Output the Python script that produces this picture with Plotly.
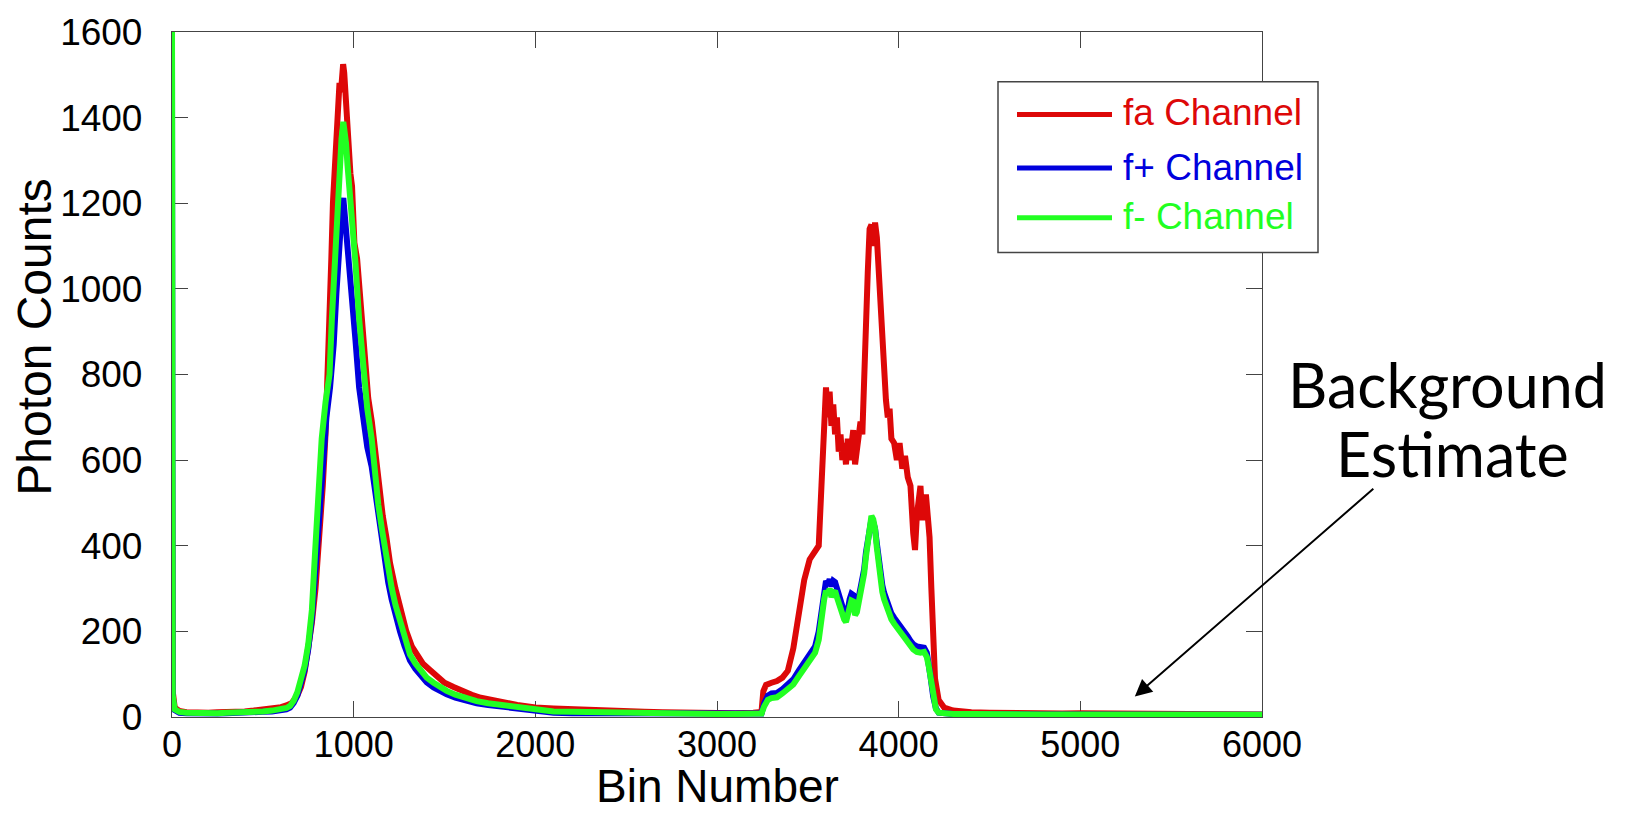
import plotly.graph_objects as go

# ---------------- data ----------------
bins_fa = [0, 4, 15, 40, 80, 120, 160, 200, 250, 300, 350, 400, 450, 500, 550, 600, 630, 660, 690, 710,
           730, 750, 770, 790, 810, 830, 845, 858, 868, 877, 886, 893, 898, 904, 913, 922, 930, 936, 942, 948,
           955, 964, 973, 982, 991, 1004, 1019, 1032, 1046, 1065, 1080, 1100, 1120, 1140, 1160, 1180, 1200, 1230, 1260, 1290,
           1320, 1350, 1380, 1420, 1460, 1500, 1550, 1600, 1650, 1700, 1750, 1800, 1850, 1900, 1950, 2000, 2100, 2200, 2300, 2400,
           2500, 2600, 2700, 2800, 2900, 3000, 3100, 3200, 3245, 3255, 3270, 3300, 3330, 3360, 3390, 3420, 3450, 3480, 3510, 3540,
           3560, 3575, 3590, 3600, 3610, 3620, 3630, 3640, 3650, 3660, 3670, 3680, 3690, 3700, 3710, 3720, 3730, 3740, 3750, 3760,
           3770, 3780, 3790, 3800, 3810, 3820, 3830, 3840, 3850, 3860, 3870, 3880, 3890, 3900, 3910, 3920, 3930, 3940, 3950, 3960,
           3975, 3990, 4005, 4020, 4035, 4050, 4065, 4080, 4090, 4100, 4110, 4120, 4130, 4140, 4150, 4160, 4170, 4180, 4190, 4200,
           4220, 4250, 4300, 4350, 4400, 4500, 4600, 4700, 4800, 4900, 5000, 5200, 5400, 5600, 5800, 6000]
counts_fa = [630, 60, 22, 14, 11, 10, 10, 10, 11, 11, 12, 13, 15, 17, 20, 23, 27, 33, 50, 70,
             105, 155, 220, 300, 400, 540, 660, 798, 930, 1070, 1202, 1260, 1287, 1349, 1396, 1481, 1460, 1500, 1525, 1505,
             1458, 1380, 1287, 1270, 1240, 1108, 1070, 1000, 930, 798, 745, 690, 610, 545, 470, 420, 360, 300, 245, 200,
             165, 145, 125, 110, 95, 80, 70, 60, 52, 45, 40, 36, 32, 28, 25, 22, 20, 18, 15, 14,
             13, 12, 11, 10, 10, 9, 9, 10, 12, 60, 75, 80, 84, 92, 108, 160, 250, 320, 368, 385,
             400, 540, 660, 770, 700, 760, 680, 730, 660, 700, 620, 660, 600, 640, 590, 650, 600, 640, 670, 590,
             620, 650, 690, 660, 830, 960, 1040, 1140, 1150, 1100, 1155, 1120, 1040, 950, 880, 790, 740, 700, 720, 650,
             640, 600, 640, 580, 610, 560, 540, 430, 390, 470, 510, 540, 460, 500, 520, 470, 420, 300, 160, 90,
             40, 22, 15, 12, 11, 10, 9, 10, 9, 8, 9, 8, 8, 7, 7, 6]

bins_fp = [0, 4, 15, 40, 80, 120, 160, 200, 250, 300, 350, 400, 450, 500, 550, 600, 630, 650, 670, 690,
           710, 730, 750, 770, 790, 810, 830, 850, 870, 890, 905, 918, 930, 937, 943, 950, 958, 966, 975, 990,
           1010, 1030, 1050, 1075, 1099, 1118, 1136, 1155, 1172, 1190, 1209, 1230, 1255, 1280, 1310, 1340, 1370, 1402, 1440,
           1480, 1512, 1560, 1620, 1677, 1740, 1800, 1860, 1920, 1980, 2044, 2100, 2200, 2300, 2400, 2500, 2600, 2700, 2800, 2900,
           3000, 3100, 3200, 3245, 3260, 3280, 3300, 3330, 3360, 3390, 3420, 3450, 3480, 3510, 3540, 3560, 3575, 3590, 3600, 3610,
           3620, 3630, 3640, 3650, 3660, 3670, 3680, 3690, 3700, 3710, 3720, 3730, 3740, 3750, 3760, 3770, 3780, 3790, 3800, 3810,
           3820, 3830, 3840, 3850, 3860, 3870, 3880, 3890, 3900, 3910, 3920, 3930, 3940, 3950, 3960, 3975, 3990, 4005, 4020, 4035,
           4050, 4065, 4080, 4100, 4120, 4140, 4155, 4165, 4175, 4190, 4205, 4220, 4250, 4300, 4400, 4500, 4600, 4700, 4800, 4900,
           5000, 5200, 5400, 5600, 5800, 6000]
counts_fp = [1560, 45, 16, 10, 9, 8, 8, 8, 8, 9, 9, 10, 11, 12, 13, 15, 18, 22, 33, 50,
             76, 110, 158, 230, 345, 480, 610, 700, 770, 870, 990, 1090, 1170, 1200, 1212, 1180, 1120, 1080, 1040, 980,
             880, 770, 700, 630, 585, 525, 462, 408, 362, 315, 275, 238, 200, 166, 132, 112, 96, 81, 69,
             59, 53, 45, 38, 32, 28, 25, 22, 18, 14, 11, 10, 9, 9, 8, 8, 7, 7, 7, 6,
             6, 6, 6, 8, 32, 50, 55, 56, 65, 75, 88, 108, 128, 148, 165, 200, 255, 300, 318, 310,
             322, 305, 318, 315, 300, 282, 268, 258, 245, 238, 250, 275, 288, 285, 255, 258, 280, 298, 318, 345,
             385, 420, 455, 462, 455, 440, 405, 365, 335, 308, 290, 276, 262, 252, 242, 232, 224, 214, 205, 198,
             188, 178, 170, 165, 162, 162, 150, 128, 95, 48, 20, 10, 8, 7, 7, 6, 6, 6, 6, 6,
             6, 5, 5, 5, 5, 5]

bins_fm = [0, 4, 15, 40, 80, 120, 160, 200, 250, 300, 350, 400, 450, 500, 550, 600, 630, 650, 670, 690,
           710, 730, 750, 770, 787, 805, 824, 845, 867, 880, 895, 905, 913, 923, 933, 943, 950, 958, 966, 975,
           990, 1010, 1030, 1053, 1075, 1099, 1118, 1136, 1155, 1172, 1190, 1209, 1230, 1255, 1280, 1310, 1340, 1370, 1402, 1440,
           1480, 1512, 1560, 1620, 1677, 1740, 1800, 1860, 1920, 1980, 2044, 2100, 2200, 2300, 2400, 2500, 2600, 2700, 2800, 2900,
           3000, 3100, 3200, 3245, 3260, 3280, 3300, 3330, 3360, 3390, 3420, 3450, 3480, 3510, 3540, 3560, 3575, 3590, 3600, 3610,
           3620, 3630, 3640, 3650, 3660, 3670, 3680, 3690, 3700, 3710, 3720, 3730, 3740, 3750, 3760, 3770, 3780, 3790, 3800, 3810,
           3820, 3830, 3840, 3850, 3860, 3870, 3880, 3890, 3900, 3910, 3920, 3930, 3940, 3950, 3960, 3975, 3990, 4005, 4020, 4035,
           4050, 4065, 4080, 4100, 4120, 4140, 4155, 4165, 4175, 4190, 4205, 4220, 4250, 4300, 4400, 4500, 4600, 4700, 4800, 4900,
           5000, 5200, 5400, 5600, 5800, 6000]
counts_fm = [1650, 50, 18, 12, 10, 9, 9, 9, 9, 10, 10, 11, 12, 13, 15, 17, 21, 26, 38, 58,
             85, 120, 170, 250, 380, 520, 650, 735, 800, 930, 1070, 1140, 1200, 1320, 1350, 1390, 1370, 1340, 1290, 1250,
             1160, 1060, 930, 800, 720, 650, 560, 495, 440, 394, 345, 302, 262, 224, 185, 146, 125, 108, 92, 80,
             68, 61, 52, 44, 37, 32, 29, 26, 21, 17, 14, 13, 12, 11, 10, 9, 9, 8, 8, 7,
             7, 7, 7, 8, 25, 40, 44, 46, 55, 64, 76, 95, 115, 135, 150, 180, 235, 275, 295, 285,
             300, 280, 290, 295, 280, 265, 250, 240, 228, 222, 235, 258, 272, 270, 238, 245, 268, 285, 305, 335,
             375, 415, 455, 470, 462, 440, 395, 350, 320, 292, 275, 262, 248, 238, 228, 218, 210, 200, 192, 185,
             175, 165, 158, 152, 150, 152, 140, 120, 90, 45, 18, 10, 8, 7, 7, 6, 6, 6, 6, 6,
             6, 5, 5, 5, 5, 5]

series_names = ["fa Channel", "f+ Channel", "f- Channel"]
series_colors = ["#dd0808", "#0000dd", "#22ff22"]
x_ticks = [0, 1000, 2000, 3000, 4000, 5000, 6000]
y_ticks = [0, 200, 400, 600, 800, 1000, 1200, 1400, 1600]

for b, c in [(bins_fa, counts_fa), (bins_fp, counts_fp), (bins_fm, counts_fm)]:
    assert len(b) == len(c), (len(b), len(c))

# ---------------- figure ----------------
W, H = 1632, 815
ML, MR, MT, MB = 172, 370, 27, 98
PW, PH = W - ML - MR, H - MT - MB


def px_x(p):  # pixel -> paper x
    return (p - ML) / PW


def px_y(p):  # pixel -> paper y
    return (H - MB - p) / PH


fig = go.Figure()
for b, c, name, col in zip([bins_fa, bins_fp, bins_fm], [counts_fa, counts_fp, counts_fm],
                           series_names, series_colors):
    fig.add_trace(go.Scatter(x=b, y=c, mode="lines", name=name,
                             line=dict(color=col, width=6), showlegend=False))

axis_common = dict(ticks="inside", ticklen=16, tickwidth=1.3, tickcolor="#444",
                   showline=True, linecolor="#444", linewidth=1.3, mirror="allticks",
                   showgrid=False, zeroline=False, layer="below traces")
tick_font = dict(family="Liberation Sans, Arial, sans-serif", size=37, color="black")

fig.update_layout(
    width=W, height=H,
    margin=dict(l=ML, r=MR, t=MT, b=MB),
    paper_bgcolor="white", plot_bgcolor="white",
    xaxis=dict(range=[0, 6000], tickvals=x_ticks, ticklabelstandoff=-4,
               tickfont=dict(tick_font, size=36), **axis_common),
    yaxis=dict(range=[0, 1600], tickvals=y_ticks, ticklabelstandoff=21,
               tickfont=tick_font, **axis_common),
    showlegend=False,
)

font_title = dict(family="Liberation Sans, Arial, sans-serif", size=46, color="black")
annotations = [
    dict(text="Bin Number", xref="paper", yref="paper", x=0.5, y=px_y(815),
         xanchor="center", yanchor="bottom", showarrow=False, font=font_title),
    dict(text="Photon Counts", xref="paper", yref="paper", x=px_x(35), y=px_y(334),
         xanchor="center", yanchor="middle", textangle=-90, showarrow=False,
         font=dict(family="Liberation Sans, Arial, sans-serif", size=48, color="black")),
]

# manual legend (box, line samples, coloured labels)
shapes = [dict(type="rect", xref="paper", yref="paper", x0=px_x(998), x1=px_x(1318),
               y0=px_y(249), y1=px_y(77), line=dict(color="#444", width=1.5), fillcolor="white",
               layer="above")]
leg_rows = [110, 164, 214]
leg_text_rows = [108, 163, 213]
for name, col, ry, ty in zip(series_names, series_colors, leg_rows, leg_text_rows):
    shapes.append(dict(type="line", xref="paper", yref="paper", x0=px_x(1017), x1=px_x(1112),
                       y0=px_y(ry), y1=px_y(ry), line=dict(color=col, width=5)))
    annotations.append(dict(text=name, xref="paper", yref="paper", x=px_x(1121), y=px_y(ty),
                            xanchor="left", yanchor="middle", showarrow=False,
                            font=dict(family="Liberation Sans, Arial, sans-serif", size=37, color=col)))

# Background estimate annotation
font_note = dict(family="Lato, Open Sans, sans-serif", size=61, color="black")
annotations += [
    dict(text="Background", xref="paper", yref="paper", x=px_x(1447), y=px_y(382),
         xanchor="center", yanchor="middle", showarrow=False, font=font_note),
    dict(text="Estimate", xref="paper", yref="paper", x=px_x(1452), y=px_y(452),
         xanchor="center", yanchor="middle", showarrow=False, font=font_note),
    dict(text="", x=5300, y=48, xref="x", yref="y", ax=240, ay=-209, axref="pixel", ayref="pixel",
         showarrow=True, arrowhead=2, arrowsize=1.7, arrowwidth=2, arrowcolor="black", standoff=0),
]

fig.update_layout(annotations=annotations, shapes=shapes)

fig.write_html("out.html", config={"displayModeBar": False},
               post_script="document.body.style.margin='0';")
